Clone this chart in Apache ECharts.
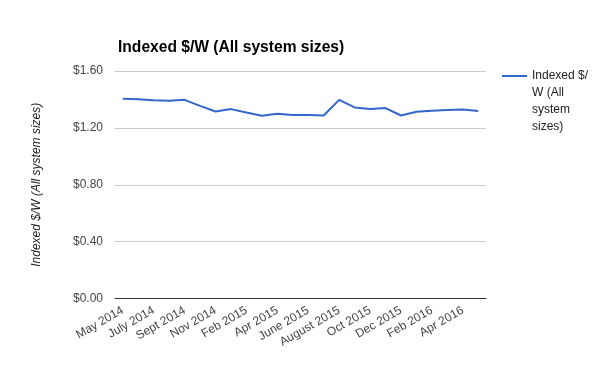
<!DOCTYPE html>
<html><head><meta charset="utf-8">
<script src="https://cdn.jsdelivr.net/npm/echarts@6/dist/echarts.min.js"></script>
<style>html,body{margin:0;padding:0;background:#fff}#c{width:600px;height:371px}</style>
</head><body><div id="c"></div>
<script>
const months = ["May 2014","June 2014","July 2014","August 2014","Sept 2014","Oct 2014","Nov 2014","Dec 2014","Feb 2015","Mar 2015","Apr 2015","May 2015","June 2015","July 2015","August 2015","Sept 2015","Oct 2015","Nov 2015","Dec 2015","Jan 2016","Feb 2016","Mar 2016","Apr 2016","May 2016"];
const indexedPrice = [1.404,1.402,1.395,1.390,1.397,1.355,1.315,1.332,1.308,1.285,1.299,1.290,1.290,1.287,1.397,1.344,1.332,1.339,1.287,1.313,1.320,1.325,1.330,1.318];
const yTicks = [0, 0.4, 0.8, 1.2, 1.6];
const seriesName = "Indexed $/W (All system sizes)";
const font = "Arial, 'Liberation Sans', sans-serif";
const chart = echarts.init(document.getElementById('c'));
chart.setOption({
  animation: false,
  title: { text: seriesName, left: 113, top: 35, textStyle: { fontFamily: font, fontSize: 15.6, fontWeight: 'bold', color: '#000' } },
  grid: { left: 115, right: 114, top: 71, bottom: 72.5, containLabel: false },
  legend: {
    left: 497, top: 11.5, orient: 'vertical',
    icon: 'rect', itemWidth: 25, itemHeight: 2, itemGap: 5,
    data: [seriesName],
    formatter: () => '\n\n\nIndexed $/\nW (All\nsystem\nsizes)',
    textStyle: { fontFamily: font, fontSize: 12, color: '#222', lineHeight: 17 }
  },
  xAxis: {
    type: 'category', data: months, boundaryGap: true,
    axisLine: { lineStyle: { color: '#333', width: 1 } },
    axisTick: { show: false },
    axisLabel: { interval: 1, rotate: 30, margin: 11, fontFamily: font, fontSize: 12, color: '#444' }
  },
  yAxis: {
    type: 'value', min: yTicks[0], max: yTicks[yTicks.length - 1], interval: 0.4,
    name: seriesName, nameLocation: 'middle', nameRotate: 90, nameGap: 72,
    nameTextStyle: { fontFamily: font, fontSize: 12, fontStyle: 'italic', color: '#222' },
    axisLine: { show: false }, axisTick: { show: false },
    splitLine: { lineStyle: { color: '#ccc' } },
    axisLabel: { margin: 12, fontFamily: font, fontSize: 12, color: '#444', formatter: v => '$' + v.toFixed(2) }
  },
  series: [{
    name: seriesName, type: 'line', data: indexedPrice,
    showSymbol: false, symbol: 'none',
    lineStyle: { color: '#3366cc', width: 2 }, itemStyle: { color: '#3366cc' }
  }]
});
</script></body></html>
